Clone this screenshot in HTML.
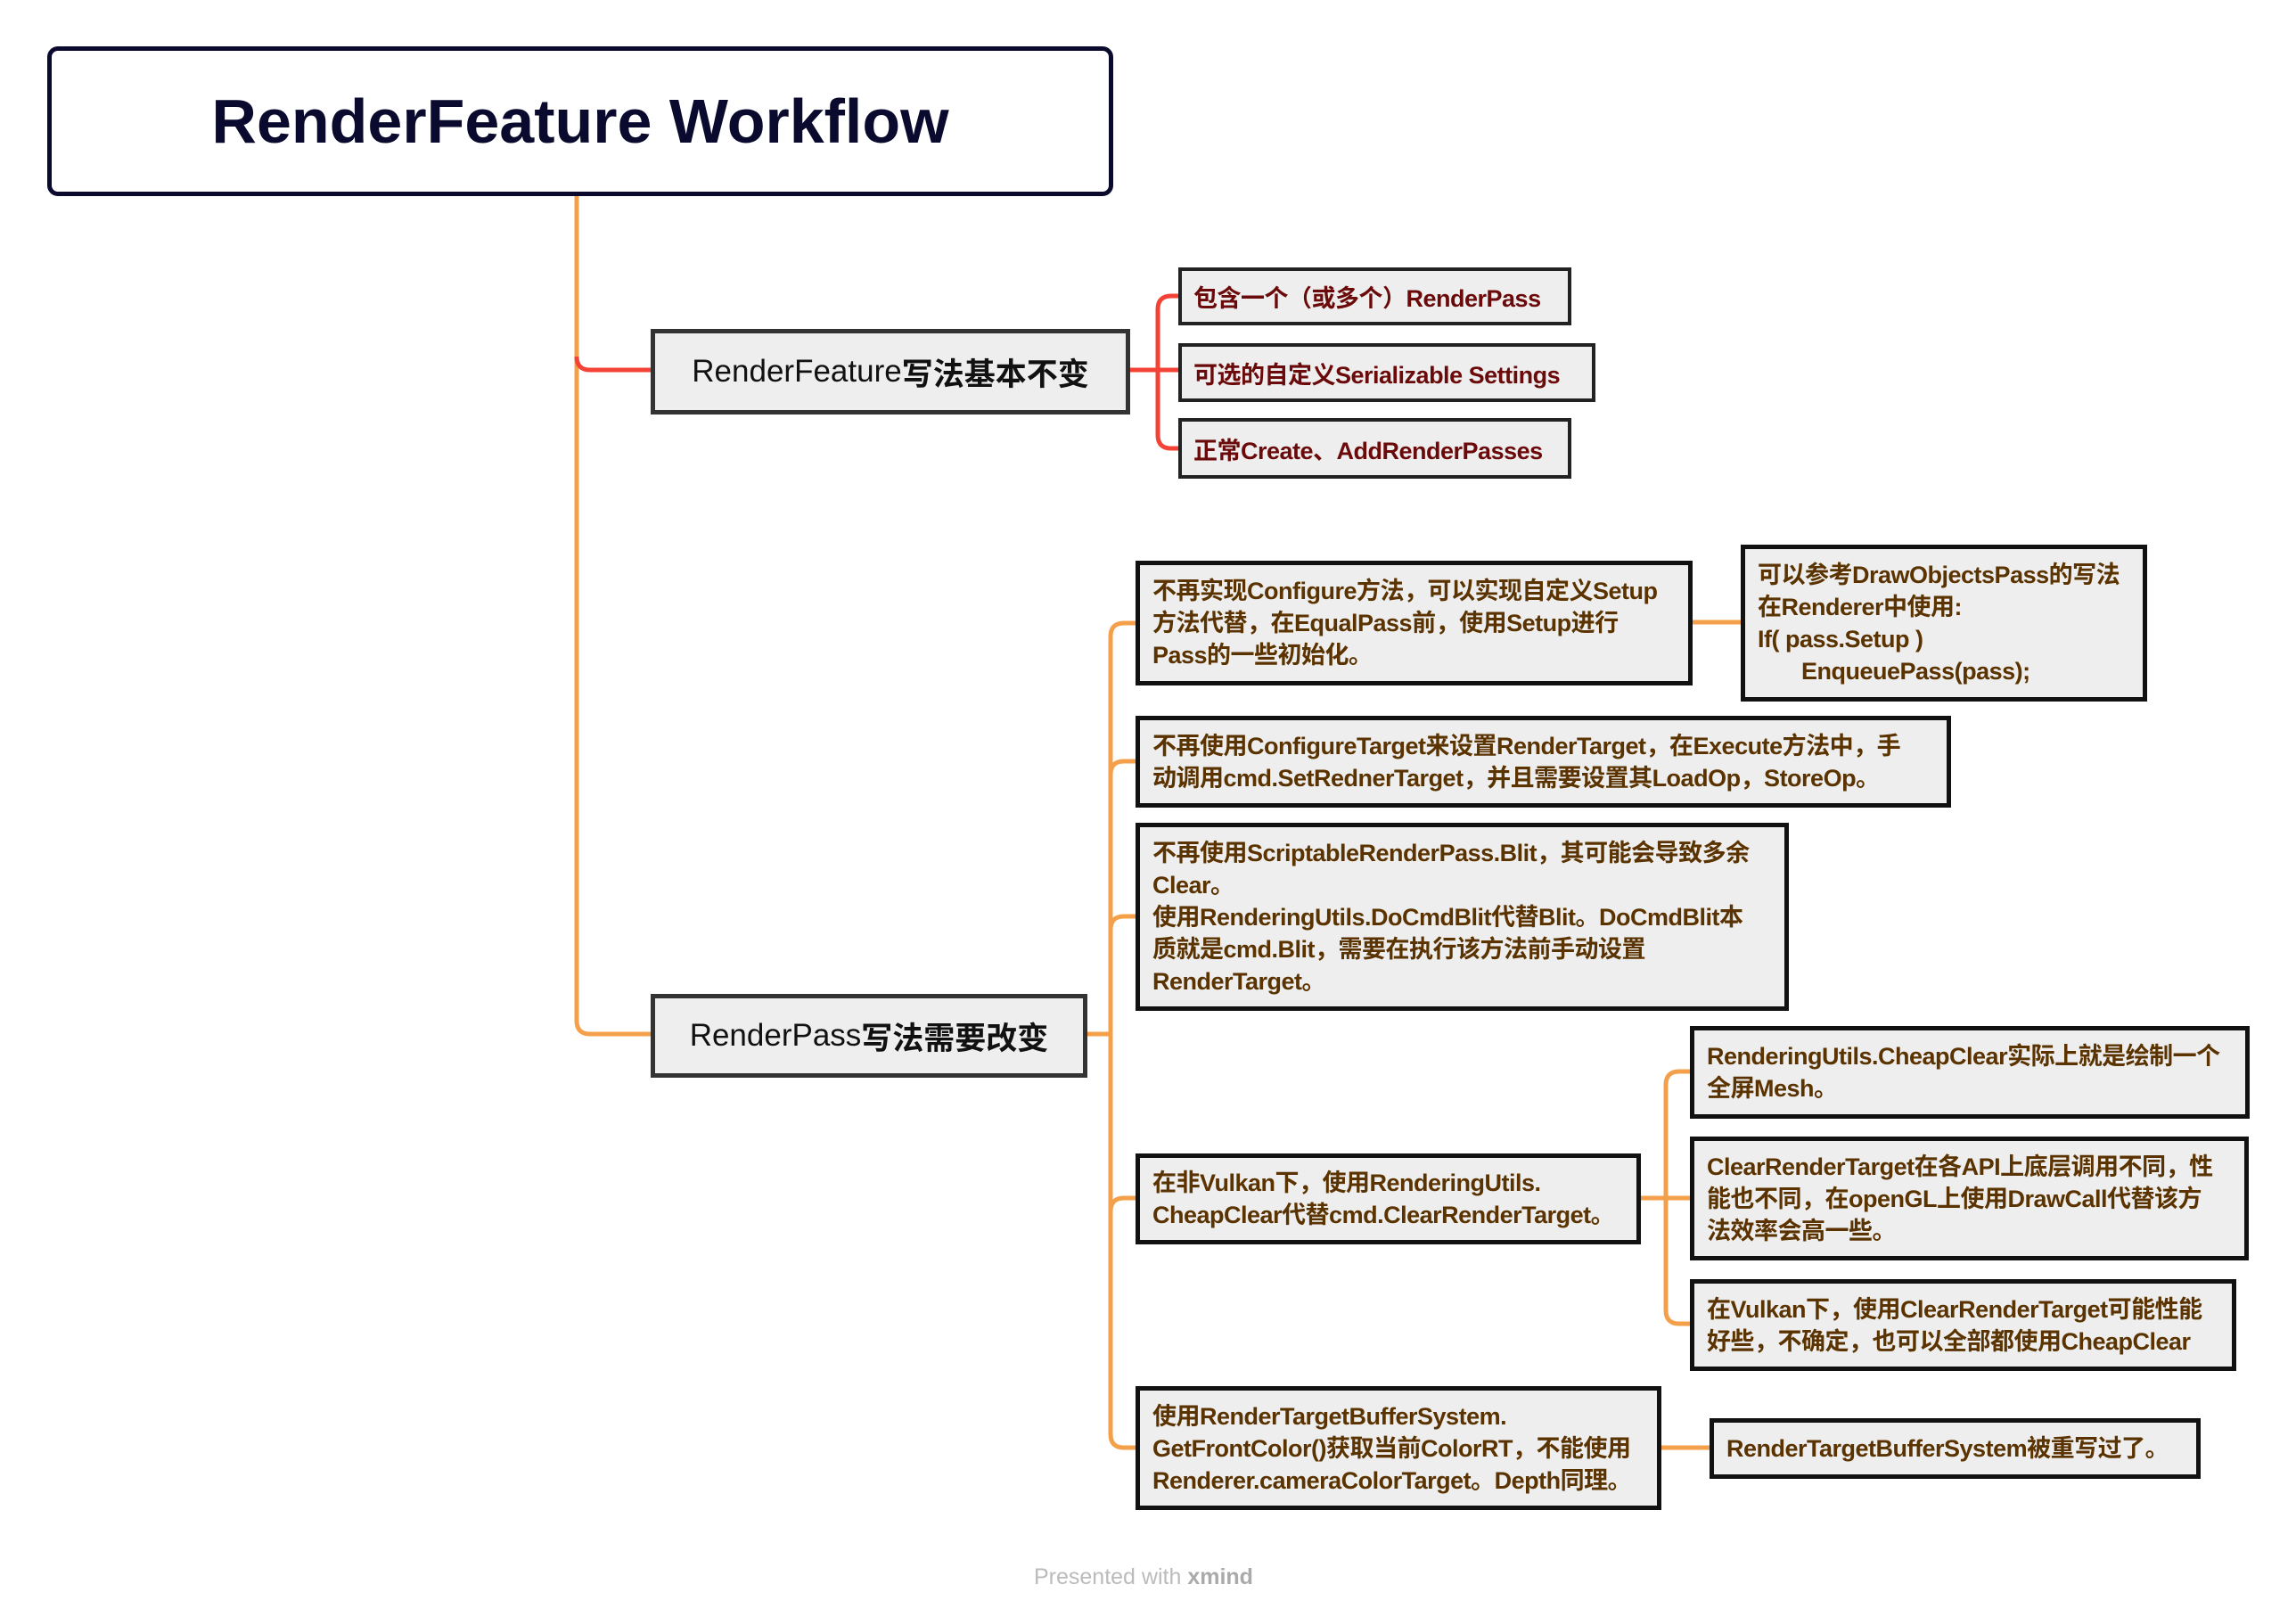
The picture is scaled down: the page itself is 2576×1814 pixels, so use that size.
<!DOCTYPE html>
<html><head><meta charset="utf-8">
<style>
body{margin:0;width:2576px;height:1814px;background:#fff;position:relative;overflow:hidden;font-family:"Liberation Sans","Noto Sans CJK SC",sans-serif;}
.b{position:absolute;box-sizing:border-box;}
.t{border:5px solid #0a0a2e;border-radius:12px;background:#fff;display:flex;align-items:center;justify-content:center;font-size:70px;font-weight:bold;color:#0a0a2e;}
.m{background:#eeeeee;border:5px solid #333;display:flex;align-items:center;justify-content:center;font-size:35px;color:#111;white-space:nowrap;}
.r{background:#eeeeee;border:4px solid #222;display:flex;align-items:center;padding-left:13px;font-size:27px;font-weight:bold;color:#6b0a0a;white-space:nowrap;letter-spacing:-0.5px;}
.o{background:#eeeeee;border:5px solid #111;display:flex;align-items:center;padding-left:14px;font-size:27px;font-weight:bold;color:#5a3300;white-space:nowrap;line-height:36px;letter-spacing:-0.5px;}
.f{position:absolute;left:1160px;top:1755px;font-size:25px;color:#bbb;}
</style></head><body>
<svg width="2576" height="1814" style="position:absolute;left:0;top:0">
<g fill="none" stroke="#F4A04A" stroke-width="5">
<path d="M647,220 V1145 Q647,1160 662,1160 H731"/>
<path d="M1220,1160 H1246"/>
<path d="M1274,699 H1261 Q1246,699 1246,714 V1609 Q1246,1624 1261,1624 H1274"/>
<path d="M1246,869 Q1246,854 1261,854 H1274"/>
<path d="M1246,1043 Q1246,1028 1261,1028 H1274"/>
<path d="M1246,1359 Q1246,1344 1261,1344 H1274"/>
<path d="M1899,698 H1953"/>
<path d="M1841,1344 H1896"/>
<path d="M1896,1202 H1884 Q1869,1202 1869,1217 V1470 Q1869,1485 1884,1485 H1896"/>
<path d="M1864,1624 H1918"/>
</g>
<g fill="none" stroke="#F44336" stroke-width="5">
<path d="M647,400 Q647,415 662,415 H731"/>
<path d="M1268,415 H1326"/>
<path d="M1326,332 H1314 Q1299,332 1299,347 V488 Q1299,503 1314,503 H1326"/>
</g>
</svg>
<div class="b t" style="left:53px;top:52px;width:1196px;height:168px;">RenderFeature Workflow</div>
<div class="b m" style="left:730px;top:369px;width:538px;height:96px;">RenderFeature<b>写法基本不变</b></div>
<div class="b r" style="left:1322px;top:300px;width:441px;height:65px;">包含一个（或多个）RenderPass</div>
<div class="b r" style="left:1322px;top:385px;width:468px;height:66px;">可选的自定义Serializable Settings</div>
<div class="b r" style="left:1322px;top:469px;width:441px;height:68px;">正常Create、AddRenderPasses</div>
<div class="b m" style="left:730px;top:1115px;width:490px;height:94px;">RenderPass<b>写法需要改变</b></div>
<div class="b o" style="left:1274px;top:629px;width:625px;height:140px;">不再实现Configure方法，可以实现自定义Setup<br>方法代替，在EqualPass前，使用Setup进行<br>Pass的一些初始化。</div>
<div class="b o" style="left:1953px;top:611px;width:456px;height:176px;">可以参考DrawObjectsPass的写法<br>在Renderer中使用:<br>If( pass.Setup )<br>&nbsp;&nbsp;&nbsp;&nbsp;&nbsp;&nbsp;&nbsp;EnqueuePass(pass);</div>
<div class="b o" style="left:1274px;top:803px;width:915px;height:103px;">不再使用ConfigureTarget来设置RenderTarget，在Execute方法中，手<br>动调用cmd.SetRednerTarget，并且需要设置其LoadOp，StoreOp。</div>
<div class="b o" style="left:1274px;top:923px;width:733px;height:211px;">不再使用ScriptableRenderPass.Blit，其可能会导致多余<br>Clear。<br>使用RenderingUtils.DoCmdBlit代替Blit。DoCmdBlit本<br>质就是cmd.Blit，需要在执行该方法前手动设置<br>RenderTarget。</div>
<div class="b o" style="left:1274px;top:1294px;width:567px;height:102px;">在非Vulkan下，使用RenderingUtils.<br>CheapClear代替cmd.ClearRenderTarget。</div>
<div class="b o" style="left:1896px;top:1151px;width:628px;height:104px;">RenderingUtils.CheapClear实际上就是绘制一个<br>全屏Mesh。</div>
<div class="b o" style="left:1896px;top:1275px;width:627px;height:139px;">ClearRenderTarget在各API上底层调用不同，性<br>能也不同，在openGL上使用DrawCall代替该方<br>法效率会高一些。</div>
<div class="b o" style="left:1896px;top:1435px;width:613px;height:103px;">在Vulkan下，使用ClearRenderTarget可能性能<br>好些，不确定，也可以全部都使用CheapClear</div>
<div class="b o" style="left:1274px;top:1555px;width:590px;height:139px;">使用RenderTargetBufferSystem.<br>GetFrontColor()获取当前ColorRT，不能使用<br>Renderer.cameraColorTarget。Depth同理。</div>
<div class="b o" style="left:1918px;top:1591px;width:551px;height:68px;">RenderTargetBufferSystem被重写过了。</div>
<div class="f">Presented with <b style="color:#aaa">xmind</b></div>
</body></html>
